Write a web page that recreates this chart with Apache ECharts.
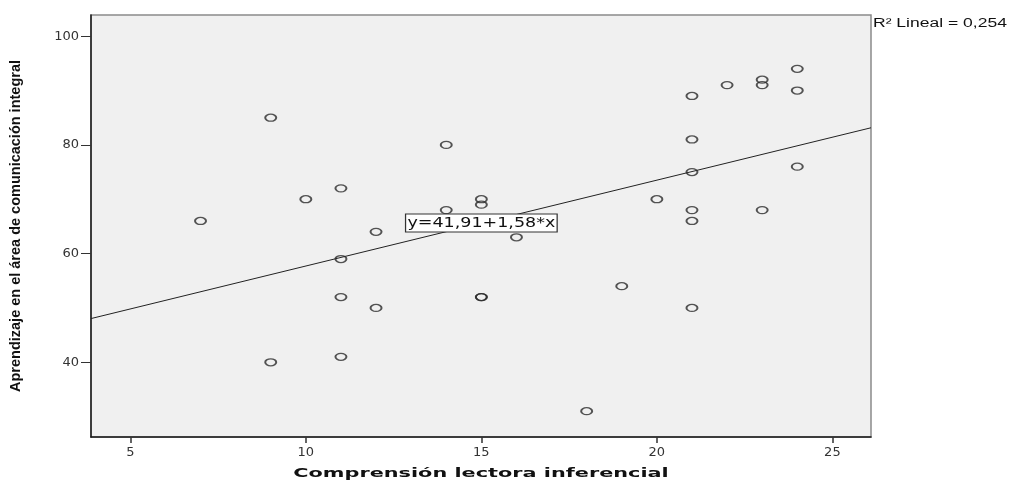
<!DOCTYPE html>
<html>
<head>
<meta charset="utf-8">
<script src="https://cdn.jsdelivr.net/npm/echarts@6/dist/echarts.min.js"></script>
<style>
html,body{margin:0;padding:0;background:#fff;}
#chart{width:1011px;height:483px;}
</style>
</head>
<body>
<div id="chart"></div>
<script>
// Data
const xValues = [7, 9, 9, 10, 11, 11, 11, 11, 12, 12, 14, 14, 15, 15, 15, 15, 16, 18, 19, 20, 21, 21, 21, 21, 21, 21, 22, 23, 23, 23, 24, 24, 24];
const yValues = [66, 85, 40, 70, 72, 59, 52, 41, 64, 50, 80, 68, 70, 69, 52, 52, 63, 31, 54, 70, 89, 81, 75, 68, 66, 50, 91, 92, 91, 68, 94, 90, 76];
const fitIntercept = 41.91;
const fitSlope = 1.58;
const xTicks = [5, 10, 15, 20, 25];
const yTicks = [40, 60, 80, 100];
const xTitle = 'Comprensión lectora inferencial';
const yTitle = 'Aprendizaje en el área de comunicación integral';
const equationText = 'y=41,91+1,58*x';
const r2Text = 'R² Lineal = 0,254';
const labelX = 15;

const xMin = 3.88, xMax = 26.1, yMin = 26.25, yMax = 103.9;

const points = xValues.map((x, i) => [x, yValues[i]]);
const fitLine = [xMin, xMax].map(x => [x, fitIntercept + fitSlope * x]);

const chart = echarts.init(document.getElementById('chart'), null, {renderer: 'canvas'});
const option = {
  animation: false,
  backgroundColor: '#ffffff',
  grid: {
    left: 90, top: 15, right: 140, bottom: 46,
    show: true, backgroundColor: '#f0f0f0', borderColor: '#8a8a8a', borderWidth: 1.5
  },
  xAxis: {
    type: 'value', min: xMin, max: xMax,
    axisLine: {show: true, onZero: false, lineStyle: {color: '#1a1a1a', width: 1.5}},
    axisTick: {show: true, length: 6, customValues: xTicks, lineStyle: {color: '#333', width: 1.5}},
    axisLabel: {customValues: xTicks, margin: 9, color: '#333', fontFamily: 'DejaVu Sans', fontSize: 13},
    splitLine: {show: false}
  },
  yAxis: {
    type: 'value', min: yMin, max: yMax,
    name: yTitle, nameLocation: 'middle', nameGap: 68,
    nameTextStyle: {fontFamily: 'Liberation Sans', fontWeight: 'bold', fontSize: 14.5, color: '#111'},
    axisLine: {show: true, onZero: false, lineStyle: {color: '#1a1a1a', width: 1.5}},
    axisTick: {show: true, length: 10, customValues: yTicks, lineStyle: {color: '#333', width: 1}},
    axisLabel: {customValues: yTicks, margin: 12, color: '#333', fontFamily: 'DejaVu Sans', fontSize: 13},
    splitLine: {show: false}
  },
  series: [
    {
      type: 'line', data: fitLine, symbol: 'none', silent: true,
      lineStyle: {color: '#222', width: 1}, z: 2
    },
    {
      type: 'scatter', data: points, symbol: 'circle', symbolSize: [11, 7],
      itemStyle: {color: 'rgba(0,0,0,0)', borderColor: '#2a2a2a', borderWidth: 1.6}, z: 3
    }
  ]
};
chart.setOption(option);

const eqPos = chart.convertToPixel({gridIndex: 0}, [labelX, fitIntercept + fitSlope * labelX]);
chart.setOption({
  graphic: [
    {
      type: 'text', x: eqPos[0], y: eqPos[1], scaleX: 1.25, z: 10,
      style: {
        text: equationText, fontFamily: 'DejaVu Sans', fontSize: 14, fill: '#111',
        align: 'center', verticalAlign: 'middle',
        backgroundColor: '#ffffff', borderColor: '#333', borderWidth: 1, padding: [2, 1, 1, 1]
      }
    },
    {
      type: 'text', x: 873, y: 24, scaleX: 1.46, z: 10,
      style: {
        text: r2Text, fontFamily: 'Liberation Sans', fontSize: 12, fill: '#111',
        align: 'left', verticalAlign: 'middle'
      }
    },
    {
      type: 'text', x: 481, y: 474, scaleX: 1.6, z: 10,
      style: {
        text: xTitle, fontFamily: 'DejaVu Sans', fontWeight: 'bold', fontSize: 13, fill: '#111',
        align: 'center', verticalAlign: 'middle'
      }
    }
  ]
});
</script>
</body>
</html>
